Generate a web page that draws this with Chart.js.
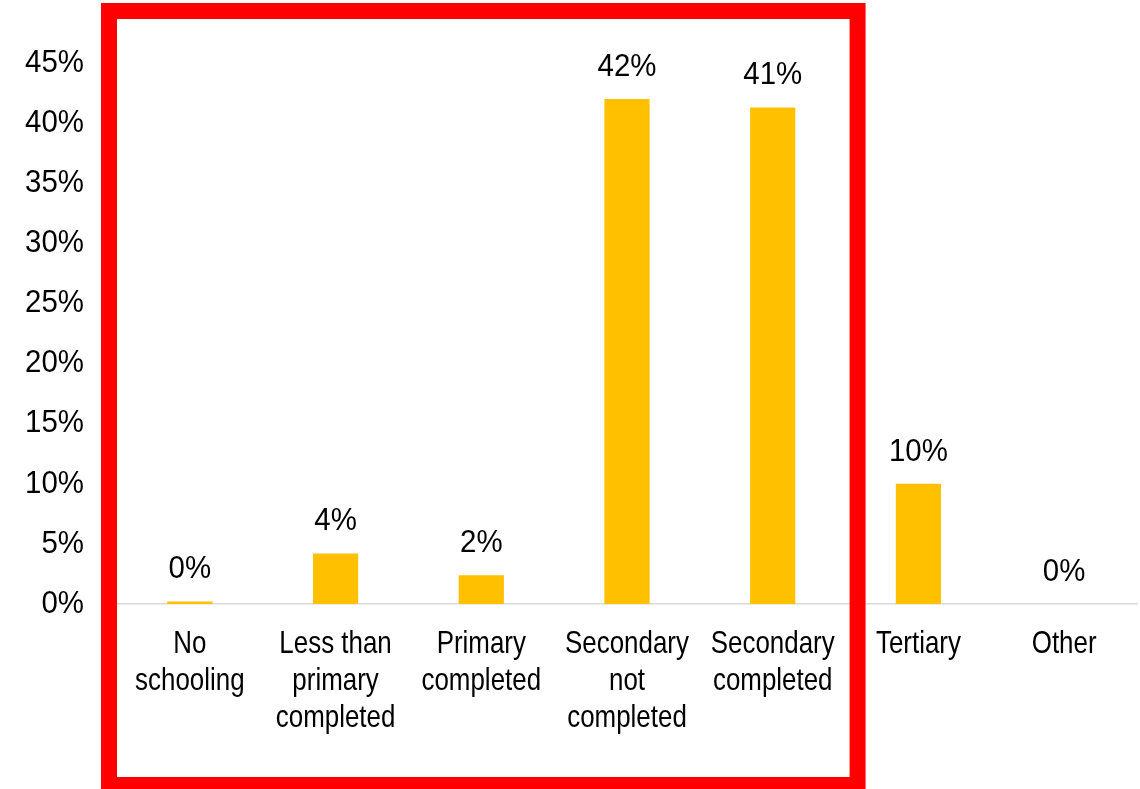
<!DOCTYPE html>
<html>
<head>
<meta charset="utf-8">
<script src="https://cdn.jsdelivr.net/npm/chart.js@4"></script>
<style>
    html, body { margin: 0; padding: 0; background: #fff; }
    #wrap { width: 1140px; height: 789px; }
</style>
</head>
<body>
<div id="wrap"><canvas id="chart" width="1140" height="789"></canvas></div>
<script>
const categories = [
    ['No', 'schooling'],
    ['Less than', 'primary', 'completed'],
    ['Primary', 'completed'],
    ['Secondary', 'not', 'completed'],
    ['Secondary', 'completed'],
    ['Tertiary'],
    ['Other']
];
const shares = [0.2, 4.2, 2.4, 42.0, 41.3, 10.0, 0.0];
const yTicks = [0, 5, 10, 15, 20, 25, 30, 35, 40, 45];
// categories inside the red frame
const boxFrom = 0;
const boxTo = 4;

const FONT = "32px 'Liberation Sans', Arial, sans-serif";
// the font is drawn narrower than Arial: words more than digits
const WORD_SQUEEZE = 0.81;
const NUM_SQUEEZE = 0.92;

function squeezedText(ctx, text, x, y, sx) {
    ctx.save();
    ctx.translate(x, y);
    ctx.scale(sx, 1);
    ctx.fillText(text, 0, 0);
    ctx.restore();
}

// value labels above each bar
const valueLabels = {
    id: 'valueLabels',
    afterDatasetsDraw(chart) {
        const ctx = chart.ctx;
        const meta = chart.getDatasetMeta(0);
        ctx.save();
        ctx.font = FONT;
        ctx.fillStyle = '#000';
        ctx.textAlign = 'center';
        ctx.textBaseline = 'middle';
        meta.data.forEach((bar, i) => {
            squeezedText(ctx, Math.round(shares[i]) + '%', bar.x, bar.y - 32, NUM_SQUEEZE);
        });
        ctx.restore();
    }
};

// axis labels, drawn by hand so they can be condensed
const axisLabels = {
    id: 'axisLabels',
    afterDraw(chart) {
        const ctx = chart.ctx;
        const x = chart.scales.x;
        const y = chart.scales.y;
        ctx.save();
        ctx.font = FONT;
        ctx.fillStyle = '#000';
        ctx.textBaseline = 'middle';
        ctx.textAlign = 'right';
        yTicks.forEach(v => {
            squeezedText(ctx, v + '%', y.right - 33, y.getPixelForValue(v), NUM_SQUEEZE);
        });
        ctx.textAlign = 'center';
        categories.forEach((lines, i) => {
            const cx = x.getPixelForValue(i);
            lines.forEach((line, j) => {
                squeezedText(ctx, line, cx, x.top + 40 + j * 37, WORD_SQUEEZE);
            });
        });
        ctx.restore();
    }
};

// red frame around the school-level categories
const redFrame = {
    id: 'redFrame',
    afterDraw(chart) {
        const x = chart.scales.x;
        const step = x.getPixelForValue(1) - x.getPixelForValue(0);
        const left = x.getPixelForValue(boxFrom) - step / 2;
        const right = x.getPixelForValue(boxTo) + step / 2 + 4;
        const ctx = chart.ctx;
        ctx.save();
        ctx.strokeStyle = '#ff0000';
        ctx.lineWidth = 16;
        ctx.strokeRect(left - 8, 11, right - left + 16, 774);
        ctx.restore();
    }
};

new Chart(document.getElementById('chart'), {
    type: 'bar',
    data: {
        labels: categories,
        datasets: [{
            data: shares,
            backgroundColor: '#ffc000',
            borderWidth: 0,
            barPercentage: 0.62,
            categoryPercentage: 0.5
        }]
    },
    options: {
        responsive: false,
        animation: false,
        layout: { padding: { top: 63, right: 3, left: 0, bottom: 0 } },
        plugins: {
            legend: { display: false },
            tooltip: { enabled: false }
        },
        scales: {
            x: {
                grid: { display: false, drawTicks: false },
                border: { color: '#d9d9d9', width: 1.5 },
                ticks: { display: false },
                afterFit(scale) { scale.height = 185; }
            },
            y: {
                min: 0,
                max: 45,
                grid: { display: false, drawTicks: false },
                border: { display: false },
                afterBuildTicks(scale) { scale.ticks = yTicks.map(v => ({ value: v })); },
                ticks: { display: false },
                afterFit(scale) { scale.width = 117; }
            }
        }
    },
    plugins: [valueLabels, axisLabels, redFrame]
});
</script>
</body>
</html>
